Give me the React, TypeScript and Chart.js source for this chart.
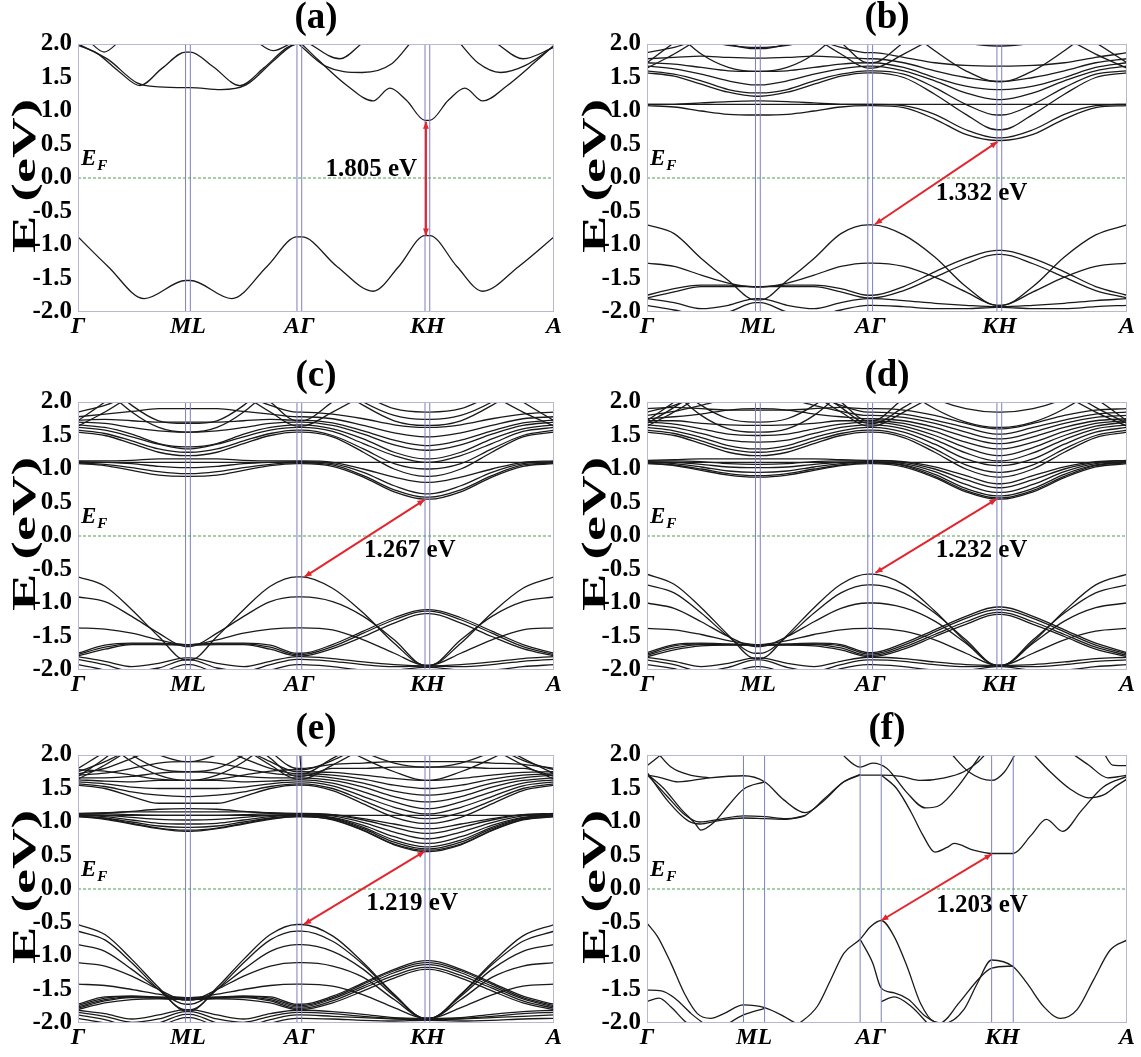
import React, { useEffect, useRef } from 'react';
import { Chart, registerables } from 'chart.js';
Chart.register(...registerables);

const FONT = "'Liberation Serif','Times New Roman',serif";

// ---------- axis / labels ----------
const X_LABELS = ['Γ', 'ML', 'AΓ', 'KH', 'A'];
const Y_MIN = -2;
const Y_MAX = 2;
const Y_STEP = 0.5;
const TITLES = ['(a)', '(b)', '(c)', '(d)', '(e)', '(f)'];
// high-symmetry positions: Γ, M, L, A, Γ, K, H, A
const SYM_STD = [0, 0.226, 0.236, 0.46, 0.47, 0.729, 0.739, 1];
const SYM_F = [0, 0.201, 0.245, 0.444, 0.488, 0.718, 0.763, 1];
const SEG_FRACTIONS = [0, 0.25, 0.5, 0.75, 1];

// ---------- band gaps ----------
const GAP_LABELS = ['1.805 eV', '1.332 eV', '1.267 eV', '1.232 eV', '1.219 eV', '1.203 eV'];
const GAP_FROM_X = [0.731, 0.475, 0.476, 0.476, 0.475, 0.488];
const GAP_FROM_Y = [-0.86, -0.69, -0.61, -0.55, -0.525, -0.47];
const GAP_TO_X = [0.731, 0.73, 0.728, 0.728, 0.728, 0.718];
const GAP_TO_Y = [0.84, 0.54, 0.54, 0.55, 0.56, 0.52];
const GAP_LABEL_X = [0.616, 0.697, 0.697, 0.697, 0.702, 0.698];
const GAP_LABEL_Y = [0.12, -0.23, -0.22, -0.22, -0.21, -0.24];

// ---------- panel (a): explicit [k, E] points ----------
const BANDS_A = [
  [[0, -0.88], [0.063, -1.32], [0.139, -1.8], [0.226, -1.53], [0.236, -1.53], [0.323, -1.8], [0.397, -1.32], [0.46, -0.88], [0.47, -0.88], [0.544, -1.32], [0.62, -1.69], [0.674, -1.32], [0.729, -0.86], [0.739, -0.86], [0.796, -1.32], [0.85, -1.69], [0.926, -1.32], [1, -0.88]],
  [[0, 2.0], [0.063, 1.77], [0.124, 1.42], [0.17, 1.36], [0.226, 1.35], [0.236, 1.35], [0.3, 1.32], [0.353, 1.39], [0.414, 1.77], [0.46, 2.0], [0.47, 2.0]],
  [[0, 1.98], [0.04, 1.86], [0.086, 1.59], [0.13, 1.38], [0.177, 1.64], [0.226, 1.88], [0.236, 1.88], [0.284, 1.66], [0.34, 1.38], [0.39, 1.64], [0.44, 1.95], [0.46, 2.0]],
  [[0.02, 2.06], [0.055, 1.88], [0.09, 2.06]],
  [[0.37, 2.06], [0.41, 1.9], [0.45, 2.02]],
  [[0.47, 2.0], [0.505, 1.76], [0.567, 1.37], [0.62, 1.15], [0.655, 1.34], [0.69, 1.16], [0.729, 0.86], [0.739, 0.86], [0.778, 1.16], [0.813, 1.34], [0.85, 1.15], [0.9, 1.37], [0.965, 1.76], [1, 1.98]],
  [[0.465, 1.99], [0.52, 1.67], [0.597, 1.575], [0.66, 1.71], [0.7, 2.03]],
  [[0.8, 2.03], [0.84, 1.72], [0.888, 1.575], [0.94, 1.68], [1, 1.97]],
  [[0.48, 2.03], [0.55, 1.78], [0.6, 2.03]],
  [[0.875, 2.03], [0.935, 1.78], [1, 1.95]],
];

// ---------- panels (b)-(e): E at 0,¼,½,¾,1 of Γ→M then of Γ→K (L→A and H→A mirror them) ----------
const BANDS_B = [
  [-0.70, -0.83, -1.2, -1.53, -1.82, -0.70, -0.85, -1.18, -1.62, -1.9],
  [-1.27, -1.32, -1.45, -1.57, -1.63, -1.27, -1.32, -1.48, -1.7, -1.9],
  [-1.75, -1.65, -1.6, -1.6, -1.62, -1.75, -1.62, -1.4, -1.2, -1.08],
  [-1.79, -1.7, -1.62, -1.62, -1.62, -1.79, -1.68, -1.48, -1.28, -1.14],
  [-1.8, -1.86, -1.95, -1.9, -1.8, -1.8, -1.83, -1.87, -1.9, -1.92],
  [-1.9, -1.97, -2.05, -2.0, -1.86, -1.9, -1.92, -1.95, -1.95, -1.93],
  [1.1, 1.1, 1.1, 1.1, 1.1, 1.1, 1.1, 1.1, 1.1, 1.1],
  [1.08, 1.06, 1.0, 0.95, 0.94, 1.08, 1.05, 0.88, 0.65, 0.56],
  [1.1, 1.1, 1.12, 1.14, 1.15, 1.1, 1.08, 0.95, 0.72, 0.6],
  [1.57, 1.52, 1.4, 1.28, 1.22, 1.57, 1.5, 1.25, 0.95, 0.72],
  [1.6, 1.55, 1.45, 1.32, 1.27, 1.6, 1.55, 1.35, 1.1, 0.94],
  [1.67, 1.63, 1.55, 1.45, 1.39, 1.67, 1.6, 1.45, 1.27, 1.17],
  [1.72, 1.7, 1.65, 1.6, 1.59, 1.72, 1.65, 1.5, 1.37, 1.32],
  [1.78, 1.8, 1.82, 1.8, 1.79, 1.78, 1.72, 1.6, 1.5, 1.44],
  [1.87, 1.95, 2.05, 1.98, 1.95, 1.87, 1.8, 1.72, 1.68, 1.67],
  [1.72, 2.02, 2.3, 2.3, 2.3, 1.72, 2.02, 2.3, 2.3, 2.3],
  [1.64, 1.85, 2.1, 2.35, 2.5, 1.64, 1.85, 2.1, 2.35, 2.5],
  [2.4, 2.3, 2.15, 2.0, 1.93, 2.4, 2.3, 2.15, 2.02, 1.97],
  [2.6, 2.2, 1.85, 1.65, 1.59, 2.6, 2.25, 1.9, 1.6, 1.44],
];

const BANDS_C = [
  [-0.61, -0.75, -1.1, -1.5, -1.85, -0.61, -0.78, -1.15, -1.6, -1.93],
  [-0.91, -0.98, -1.2, -1.45, -1.65, -0.91, -0.98, -1.2, -1.55, -1.93],
  [-1.37, -1.39, -1.45, -1.55, -1.62, -1.37, -1.4, -1.55, -1.75, -1.93],
  [-1.75, -1.63, -1.6, -1.6, -1.62, -1.75, -1.62, -1.42, -1.22, -1.1],
  [-1.77, -1.66, -1.61, -1.61, -1.62, -1.77, -1.65, -1.45, -1.25, -1.12],
  [-1.79, -1.69, -1.62, -1.62, -1.63, -1.79, -1.68, -1.5, -1.3, -1.16],
  [-1.8, -1.87, -1.95, -1.9, -1.82, -1.8, -1.83, -1.88, -1.92, -1.94],
  [-1.84, -1.92, -2.02, -1.97, -1.85, -1.84, -1.87, -1.92, -1.95, -1.94],
  [-1.92, -2.0, -2.1, -2.05, -1.92, -1.92, -1.95, -2.0, -2.0, -1.96],
  [1.1, 1.1, 1.1, 1.1, 1.1, 1.1, 1.1, 1.1, 1.1, 1.1],
  [1.08, 1.05, 0.98, 0.91, 0.89, 1.08, 1.04, 0.88, 0.66, 0.55],
  [1.09, 1.07, 1.02, 0.96, 0.93, 1.09, 1.06, 0.9, 0.69, 0.58],
  [1.11, 1.1, 1.08, 1.04, 1.02, 1.11, 1.08, 0.95, 0.75, 0.63],
  [1.12, 1.12, 1.13, 1.15, 1.15, 1.12, 1.1, 1.0, 0.88, 0.8],
  [1.55, 1.5, 1.38, 1.25, 1.2, 1.55, 1.48, 1.25, 1.0, 0.89],
  [1.58, 1.53, 1.42, 1.3, 1.25, 1.58, 1.5, 1.3, 1.08, 1.0],
  [1.62, 1.58, 1.48, 1.37, 1.3, 1.62, 1.56, 1.38, 1.2, 1.1],
  [1.66, 1.62, 1.52, 1.38, 1.33, 1.66, 1.6, 1.45, 1.25, 1.15],
  [1.7, 1.68, 1.62, 1.57, 1.55, 1.7, 1.65, 1.52, 1.36, 1.28],
  [1.73, 1.74, 1.72, 1.7, 1.7, 1.73, 1.69, 1.57, 1.43, 1.35],
  [1.78, 1.82, 1.86, 1.9, 1.9, 1.78, 1.75, 1.65, 1.54, 1.48],
  [1.85, 1.95, 2.1, 2.2, 2.2, 1.85, 1.82, 1.75, 1.66, 1.62],
  [1.72, 2.0, 2.3, 2.4, 2.4, 1.72, 2.0, 2.3, 2.4, 2.4],
  [1.64, 1.85, 2.1, 2.35, 2.5, 1.64, 1.85, 2.1, 2.35, 2.5],
  [2.4, 2.35, 2.2, 2.03, 2.0, 2.4, 2.3, 2.1, 1.9, 1.85],
  [2.6, 2.2, 1.85, 1.62, 1.55, 2.6, 2.25, 1.95, 1.72, 1.65],
  [2.6, 2.3, 1.95, 1.72, 1.68, 2.6, 2.3, 2.0, 1.8, 1.74],
];

const BANDS_D = [
  [-0.57, -0.72, -1.07, -1.48, -1.83, -0.57, -0.73, -1.12, -1.58, -1.93],
  [-0.73, -0.85, -1.15, -1.5, -1.75, -0.73, -0.85, -1.15, -1.55, -1.93],
  [-1.0, -1.08, -1.28, -1.5, -1.65, -1.0, -1.07, -1.27, -1.6, -1.93],
  [-1.38, -1.4, -1.47, -1.56, -1.62, -1.38, -1.42, -1.55, -1.75, -1.93],
  [-1.74, -1.62, -1.6, -1.61, -1.62, -1.74, -1.6, -1.4, -1.2, -1.06],
  [-1.76, -1.64, -1.61, -1.62, -1.63, -1.76, -1.63, -1.43, -1.23, -1.1],
  [-1.78, -1.67, -1.62, -1.62, -1.62, -1.78, -1.66, -1.47, -1.28, -1.14],
  [-1.8, -1.7, -1.64, -1.63, -1.63, -1.8, -1.69, -1.5, -1.32, -1.17],
  [-1.81, -1.87, -1.95, -1.9, -1.82, -1.81, -1.83, -1.88, -1.92, -1.93],
  [-1.85, -1.92, -2.02, -1.96, -1.85, -1.85, -1.87, -1.92, -1.95, -1.94],
  [-1.92, -1.98, -2.1, -2.05, -1.95, -1.92, -1.95, -2.0, -2.0, -1.95],
  [1.1, 1.1, 1.1, 1.1, 1.1, 1.1, 1.1, 1.1, 1.1, 1.1],
  [1.08, 1.05, 0.98, 0.91, 0.88, 1.08, 1.03, 0.87, 0.66, 0.55],
  [1.09, 1.06, 1.0, 0.93, 0.9, 1.09, 1.05, 0.89, 0.68, 0.57],
  [1.1, 1.08, 1.03, 0.97, 0.95, 1.1, 1.06, 0.92, 0.71, 0.6],
  [1.11, 1.1, 1.07, 1.03, 1.02, 1.11, 1.08, 0.96, 0.77, 0.65],
  [1.12, 1.12, 1.11, 1.08, 1.07, 1.12, 1.1, 1.0, 0.84, 0.72],
  [1.13, 1.14, 1.15, 1.15, 1.15, 1.13, 1.11, 1.03, 0.9, 0.78],
  [1.55, 1.5, 1.38, 1.25, 1.2, 1.55, 1.47, 1.25, 1.0, 0.88],
  [1.58, 1.53, 1.42, 1.3, 1.25, 1.58, 1.5, 1.3, 1.06, 0.95],
  [1.62, 1.57, 1.47, 1.35, 1.3, 1.62, 1.55, 1.37, 1.15, 1.05],
  [1.66, 1.62, 1.53, 1.43, 1.4, 1.66, 1.6, 1.44, 1.24, 1.12],
  [1.7, 1.67, 1.6, 1.52, 1.5, 1.7, 1.64, 1.5, 1.32, 1.2],
  [1.72, 1.72, 1.68, 1.66, 1.65, 1.72, 1.68, 1.56, 1.4, 1.3],
  [1.75, 1.78, 1.82, 1.88, 1.9, 1.75, 1.72, 1.62, 1.48, 1.38],
  [1.8, 1.86, 1.95, 2.05, 2.1, 1.8, 1.77, 1.68, 1.55, 1.45],
  [1.85, 1.95, 2.1, 2.2, 2.2, 1.85, 1.82, 1.73, 1.62, 1.52],
  [1.9, 1.92, 1.9, 1.88, 1.88, 1.9, 1.88, 1.8, 1.68, 1.6],
  [1.72, 2.0, 2.3, 2.4, 2.4, 1.72, 2.05, 2.3, 2.4, 2.4],
  [1.64, 1.85, 2.1, 2.35, 2.5, 1.64, 1.85, 2.1, 2.35, 2.5],
  [1.68, 1.92, 2.2, 2.45, 2.5, 1.68, 1.92, 2.2, 2.45, 2.5],
  [2.6, 2.15, 1.8, 1.6, 1.55, 2.6, 2.2, 1.9, 1.7, 1.62],
  [2.6, 2.25, 1.95, 1.75, 1.7, 2.6, 2.3, 2.05, 1.9, 1.85],
];

const BANDS_E = [
  [-0.53, -0.68, -1.05, -1.47, -1.82, -0.53, -0.7, -1.1, -1.57, -1.93],
  [-0.63, -0.76, -1.1, -1.5, -1.8, -0.63, -0.78, -1.13, -1.58, -1.93],
  [-0.83, -0.93, -1.2, -1.5, -1.72, -0.83, -0.93, -1.2, -1.6, -1.93],
  [-1.1, -1.15, -1.3, -1.5, -1.66, -1.1, -1.15, -1.32, -1.65, -1.93],
  [-1.42, -1.44, -1.5, -1.57, -1.62, -1.42, -1.45, -1.58, -1.77, -1.93],
  [-1.72, -1.61, -1.6, -1.61, -1.62, -1.72, -1.6, -1.4, -1.2, -1.07],
  [-1.74, -1.63, -1.6, -1.62, -1.63, -1.74, -1.62, -1.42, -1.22, -1.1],
  [-1.76, -1.65, -1.61, -1.62, -1.64, -1.76, -1.64, -1.45, -1.25, -1.13],
  [-1.78, -1.67, -1.62, -1.63, -1.65, -1.78, -1.67, -1.48, -1.29, -1.17],
  [-1.8, -1.7, -1.65, -1.64, -1.65, -1.8, -1.7, -1.52, -1.33, -1.2],
  [-1.81, -1.86, -1.94, -1.88, -1.8, -1.81, -1.83, -1.87, -1.92, -1.93],
  [-1.84, -1.9, -1.99, -1.94, -1.83, -1.84, -1.86, -1.9, -1.93, -1.94],
  [-1.88, -1.95, -2.05, -2.0, -1.87, -1.88, -1.9, -1.92, -1.94, -1.95],
  [-1.93, -2.0, -2.1, -2.05, -1.92, -1.93, -1.94, -1.96, -1.97, -1.96],
  [1.1, 1.1, 1.1, 1.1, 1.1, 1.1, 1.1, 1.1, 1.1, 1.1],
  [1.08, 1.04, 0.97, 0.9, 0.86, 1.08, 1.03, 0.87, 0.66, 0.56],
  [1.08, 1.05, 0.98, 0.91, 0.88, 1.08, 1.04, 0.88, 0.67, 0.58],
  [1.09, 1.06, 1.0, 0.94, 0.92, 1.09, 1.05, 0.9, 0.7, 0.6],
  [1.1, 1.08, 1.03, 0.98, 0.97, 1.1, 1.06, 0.92, 0.73, 0.63],
  [1.11, 1.1, 1.07, 1.04, 1.03, 1.11, 1.07, 0.95, 0.78, 0.68],
  [1.12, 1.12, 1.11, 1.1, 1.1, 1.12, 1.09, 0.99, 0.85, 0.75],
  [1.13, 1.14, 1.15, 1.15, 1.15, 1.13, 1.11, 1.03, 0.92, 0.83],
  [1.12, 1.13, 1.16, 1.19, 1.2, 1.12, 1.11, 1.05, 0.97, 0.9],
  [1.55, 1.5, 1.38, 1.28, 1.28, 1.55, 1.47, 1.27, 1.07, 0.98],
  [1.57, 1.53, 1.45, 1.4, 1.38, 1.57, 1.5, 1.32, 1.14, 1.05],
  [1.6, 1.57, 1.52, 1.5, 1.5, 1.6, 1.54, 1.38, 1.22, 1.12],
  [1.63, 1.61, 1.6, 1.62, 1.62, 1.63, 1.58, 1.45, 1.3, 1.2],
  [1.66, 1.66, 1.68, 1.73, 1.75, 1.66, 1.62, 1.52, 1.38, 1.3],
  [1.7, 1.73, 1.8, 1.88, 1.9, 1.7, 1.66, 1.58, 1.46, 1.4],
  [1.72, 1.8, 1.95, 2.1, 2.15, 1.72, 1.7, 1.64, 1.55, 1.5],
  [1.75, 1.9, 2.1, 2.3, 2.3, 1.75, 1.74, 1.7, 1.65, 1.62],
  [1.68, 1.95, 2.3, 2.5, 2.5, 1.68, 1.8, 1.8, 1.82, 1.82],
  [1.8, 2.05, 2.35, 2.5, 2.5, 1.8, 1.86, 1.88, 1.9, 1.9],
  [1.64, 1.85, 2.1, 2.35, 2.5, 1.64, 1.85, 2.1, 2.35, 2.5],
  [2.5, 2.2, 1.9, 1.7, 1.62, 2.5, 2.2, 1.95, 1.75, 1.62],
  [2.6, 2.3, 2.0, 1.8, 1.75, 2.6, 2.3, 2.05, 1.88, 1.82],
  [2.6, 2.4, 2.15, 2.0, 1.9, 1.72, 1.95, 2.2, 2.4, 2.5],
  [1.78, 1.76, 1.7, 1.64, 1.62, 1.78, 1.92, 2.15, 2.4, 2.5],
];

// ---------- panel (f): explicit [k, E] points ----------
const BANDS_F = [
  [[0, -0.51], [0.022, -0.71], [0.05, -1.11], [0.078, -1.56], [0.105, -1.86], [0.133, -1.93], [0.16, -1.86], [0.201, -1.73], [0.245, -1.77], [0.285, -1.9], [0.32, -2.05]],
  [[0, -1.51], [0.03, -1.52], [0.058, -1.63], [0.092, -1.86], [0.126, -2.05]],
  [[0, -1.68], [0.025, -1.63], [0.05, -1.76], [0.08, -1.98], [0.095, -2.05]],
  [[0.16, -2.05], [0.201, -1.88], [0.245, -1.78]],
  [[0.31, -2.05], [0.355, -1.75], [0.383, -1.35], [0.41, -0.96], [0.444, -0.75], [0.466, -0.56], [0.488, -0.47], [0.515, -0.71], [0.542, -1.16], [0.57, -1.71], [0.598, -1.98], [0.62, -2.0], [0.66, -1.8], [0.688, -1.41], [0.718, -1.06], [0.763, -1.16], [0.792, -1.41], [0.827, -1.76], [0.861, -1.93], [0.896, -1.8], [0.93, -1.36], [0.965, -0.91], [1, -0.76]],
  [[0.444, -0.75], [0.47, -1.1], [0.488, -1.48], [0.515, -1.55], [0.545, -1.65], [0.58, -1.9], [0.61, -2.0], [0.65, -1.7], [0.69, -1.35], [0.718, -1.18], [0.763, -1.15]],
  [[0.488, -1.68], [0.515, -1.61], [0.55, -1.75], [0.59, -2.05]],
  [[0, 1.7], [0.03, 1.66], [0.065, 1.6], [0.13, 1.66], [0.201, 1.69], [0.245, 1.6], [0.285, 1.33], [0.33, 1.14], [0.37, 1.33], [0.41, 1.6], [0.444, 1.7]],
  [[0, 1.72], [0.035, 1.5], [0.07, 1.2], [0.1, 0.98], [0.112, 0.88], [0.14, 1.0], [0.17, 1.25], [0.201, 1.49], [0.245, 1.6]],
  [[0, 1.71], [0.04, 1.4], [0.08, 1.1], [0.11, 1.0], [0.15, 1.04], [0.201, 1.09], [0.245, 1.08], [0.29, 1.05], [0.33, 1.1], [0.37, 1.35], [0.41, 1.6], [0.444, 1.71]],
  [[0, 1.74], [0.045, 1.3], [0.085, 1.02], [0.11, 0.97], [0.15, 1.02], [0.201, 1.06], [0.245, 1.05], [0.29, 1.04], [0.33, 1.1]],
  [[0, 1.84], [0.02, 1.95], [0.035, 2.05]],
  [[0.02, 2.05], [0.05, 1.82], [0.09, 1.7], [0.13, 1.66]],
  [[0.444, 1.7], [0.488, 1.7], [0.53, 1.68], [0.57, 1.62], [0.62, 1.66], [0.66, 1.75], [0.69, 1.9], [0.71, 2.05]],
  [[0.488, 1.7], [0.52, 1.5], [0.55, 1.15], [0.575, 0.8], [0.6, 0.55], [0.625, 0.62], [0.64, 0.68], [0.68, 0.58], [0.718, 0.53], [0.763, 0.53], [0.8, 0.8], [0.832, 1.04], [0.866, 0.86], [0.905, 1.17], [0.95, 1.52], [1, 1.68]],
  [[0.4, 2.05], [0.444, 1.82], [0.47, 1.88], [0.5, 1.8], [0.54, 1.45], [0.58, 1.21], [0.61, 1.25], [0.65, 1.55], [0.68, 1.85], [0.7, 2.05]],
  [[0.63, 2.05], [0.67, 1.75], [0.718, 1.62], [0.745, 1.75], [0.77, 2.05]],
  [[0.8, 2.05], [0.84, 1.75], [0.88, 1.5], [0.92, 1.36], [0.95, 1.4], [0.98, 1.55], [1, 1.64]],
  [[0.88, 2.05], [0.92, 1.85], [0.96, 1.66], [0.985, 1.68], [1, 1.7]],
  [[0.95, 2.05], [0.97, 1.85], [1, 1.84]],
];

// ---------- builders ----------
function mirroredBand(v: number[], s: number[]) {
  const [G, M, L, A, G2, K, H, A2] = s;
  const gm = v.slice(0, 5);
  const gk = v.slice(5, 10);
  const pts: { x: number; y: number }[] = [];
  SEG_FRACTIONS.forEach((f, i) => pts.push({ x: G + (M - G) * f, y: gm[i] }));
  SEG_FRACTIONS.forEach((f, i) => pts.push({ x: L + (A - L) * f, y: gm[4 - i] }));
  SEG_FRACTIONS.forEach((f, i) => pts.push({ x: G2 + (K - G2) * f, y: gk[i] }));
  SEG_FRACTIONS.forEach((f, i) => pts.push({ x: H + (A2 - H) * f, y: gk[4 - i] }));
  return pts;
}
function explicitBand(b: number[][]) {
  return b.map(([x, y]) => ({ x, y }));
}

const PANEL_BANDS = [
  BANDS_A.map(explicitBand),
  BANDS_B.map((b) => mirroredBand(b, SYM_STD)),
  BANDS_C.map((b) => mirroredBand(b, SYM_STD)),
  BANDS_D.map((b) => mirroredBand(b, SYM_STD)),
  BANDS_E.map((b) => mirroredBand(b, SYM_STD)),
  BANDS_F.map(explicitBand),
];
const PANEL_SYM = [SYM_STD, SYM_STD, SYM_STD, SYM_STD, SYM_STD, SYM_F];

const overlayPlugin = {
  id: 'overlay',
  afterDatasetsDraw(chart: any, _a: any, opts: any) {
    const i = opts.index;
    const { ctx, chartArea: ca, scales } = chart;
    const xs = scales.x;
    const ys = scales.y;
    ctx.save();
    // frame
    ctx.strokeStyle = '#b8b8d4';
    ctx.lineWidth = 1;
    ctx.strokeRect(ca.left + 0.5, ca.top + 0.5, ca.width - 1, ca.height - 1);
    // arrow heads
    const x0 = xs.getPixelForValue(GAP_FROM_X[i]);
    const y0 = ys.getPixelForValue(GAP_FROM_Y[i]);
    const x1 = xs.getPixelForValue(GAP_TO_X[i]);
    const y1 = ys.getPixelForValue(GAP_TO_Y[i]);
    const len = Math.hypot(x1 - x0, y1 - y0);
    const ux = (x1 - x0) / len;
    const uy = (y1 - y0) / len;
    const head = (tx: number, ty: number, dx: number, dy: number) => {
      const bx = tx - dx * 7;
      const by = ty - dy * 7;
      ctx.beginPath();
      ctx.moveTo(tx, ty);
      ctx.lineTo(bx - dy * 3, by + dx * 3);
      ctx.lineTo(bx + dy * 3, by - dx * 3);
      ctx.closePath();
      ctx.fillStyle = '#e3262e';
      ctx.fill();
    };
    head(x1, y1, ux, uy);
    head(x0, y0, -ux, -uy);
    // E_F label
    ctx.fillStyle = '#000';
    ctx.textBaseline = 'alphabetic';
    ctx.textAlign = 'left';
    ctx.font = `italic bold 23px ${FONT}`;
    const ex = ca.left + 3;
    const ey = ys.getPixelForValue(0.2);
    ctx.fillText('E', ex, ey);
    const w = ctx.measureText('E').width;
    ctx.font = `italic bold 15px ${FONT}`;
    ctx.fillText('F', ex + w + 1, ey + 5);
    // gap label
    ctx.font = `bold 25px ${FONT}`;
    ctx.textAlign = 'center';
    ctx.textBaseline = 'middle';
    ctx.fillText(GAP_LABELS[i], xs.getPixelForValue(GAP_LABEL_X[i]), ys.getPixelForValue(GAP_LABEL_Y[i]));
    // y title (stretched along its direction)
    ctx.translate(26, (ca.top + ca.bottom) / 2 - 2);
    ctx.rotate(-Math.PI / 2);
    ctx.scale(1.7, 1);
    ctx.font = `bold 33px ${FONT}`;
    ctx.fillText('E (eV)', 0, 0);
    ctx.restore();
  },
};

function buildConfig(i: number, yWidth: number, padRight: number) {
  const sym = PANEL_SYM[i];
  const tickPos = [sym[0], (sym[1] + sym[2]) / 2, (sym[3] + sym[4]) / 2, (sym[5] + sym[6]) / 2, sym[7]];
  const datasets: any[] = [];
  datasets.push({
    data: [{ x: GAP_FROM_X[i], y: GAP_FROM_Y[i] }, { x: GAP_TO_X[i], y: GAP_TO_Y[i] }],
    borderColor: '#e3262e', borderWidth: 2, pointRadius: 0, clip: 0,
  });
  datasets.push({
    data: [{ x: 0, y: 0 }, { x: 1, y: 0 }],
    borderColor: '#4fa04f', borderWidth: 1.2, borderDash: [3, 2], pointRadius: 0, clip: 0,
  });
  sym.slice(1, 7).forEach((p) => {
    datasets.push({
      data: [{ x: p, y: Y_MIN }, { x: p, y: Y_MAX }],
      borderColor: '#7e7ec4', borderWidth: 1, pointRadius: 0, clip: 0,
    });
  });
  PANEL_BANDS[i].forEach((pts) => {
    datasets.push({
      data: pts, borderColor: '#1a1a1a', borderWidth: 1.3, pointRadius: 0,
      cubicInterpolationMode: 'monotone', clip: 0,
    });
  });
  return {
    type: 'line',
    data: { datasets },
    options: {
      responsive: false,
      animation: false,
      devicePixelRatio: 1,
      events: [],
      layout: { padding: { left: 0, right: padRight, top: 0, bottom: 0 } },
      plugins: {
        legend: { display: false },
        tooltip: { enabled: false },
        title: {
          display: true, text: TITLES[i], color: '#000', fullSize: false,
          font: { family: FONT, size: 37, weight: 'bold', lineHeight: 1 },
          padding: { top: 0, bottom: 7 },
        },
        overlay: { index: i },
      },
      scales: {
        x: {
          type: 'linear', min: 0, max: 1,
          grid: { display: false, drawTicks: false },
          border: { display: false },
          afterBuildTicks: (s: any) => { s.ticks = tickPos.map((v) => ({ value: v })); },
          afterFit: (s: any) => { s.height = 30; },
          ticks: {
            autoSkip: false, maxRotation: 0, padding: 0, color: '#000',
            font: { family: FONT, size: 24, weight: 'bold', style: 'italic' },
            callback: (_v: any, idx: number) => X_LABELS[idx],
          },
        },
        y: {
          type: 'linear', min: Y_MIN, max: Y_MAX,
          grid: { display: false, drawTicks: false },
          border: { display: false },
          afterFit: (s: any) => { s.width = yWidth; },
          ticks: {
            stepSize: Y_STEP, padding: 6, color: '#000',
            font: { family: FONT, size: 25, weight: 'bold' },
            callback: (v: any) => Number(v).toFixed(1),
          },
        },
      },
    },
    plugins: [overlayPlugin],
  };
}

const COL_LEFT = [0, 570];
const COL_WIDTH = [570, 571];
const COL_YW = [78, 77];
const COL_PADR = [16, 14];
const ROW_TOP = [0, 358, 711];
const PANEL_H = 342;

function Panel({ index }: { index: number }) {
  const ref = useRef<HTMLCanvasElement>(null);
  const col = index % 2;
  const row = Math.floor(index / 2);
  useEffect(() => {
    const chart = new Chart(ref.current as any, buildConfig(index, COL_YW[col], COL_PADR[col]) as any);
    return () => chart.destroy();
  }, [index]);
  return (
    <div style={{ position: 'absolute', left: COL_LEFT[col], top: ROW_TOP[row], width: COL_WIDTH[col], height: PANEL_H }}>
      <canvas ref={ref} width={COL_WIDTH[col]} height={PANEL_H} style={{ display: 'block' }} />
    </div>
  );
}

export default function App() {
  return (
    <div style={{ position: 'absolute', left: 0, top: 0, width: 1141, height: 1057, background: '#fff' }}>
      {TITLES.map((_, i) => <Panel key={i} index={i} />)}
    </div>
  );
}
